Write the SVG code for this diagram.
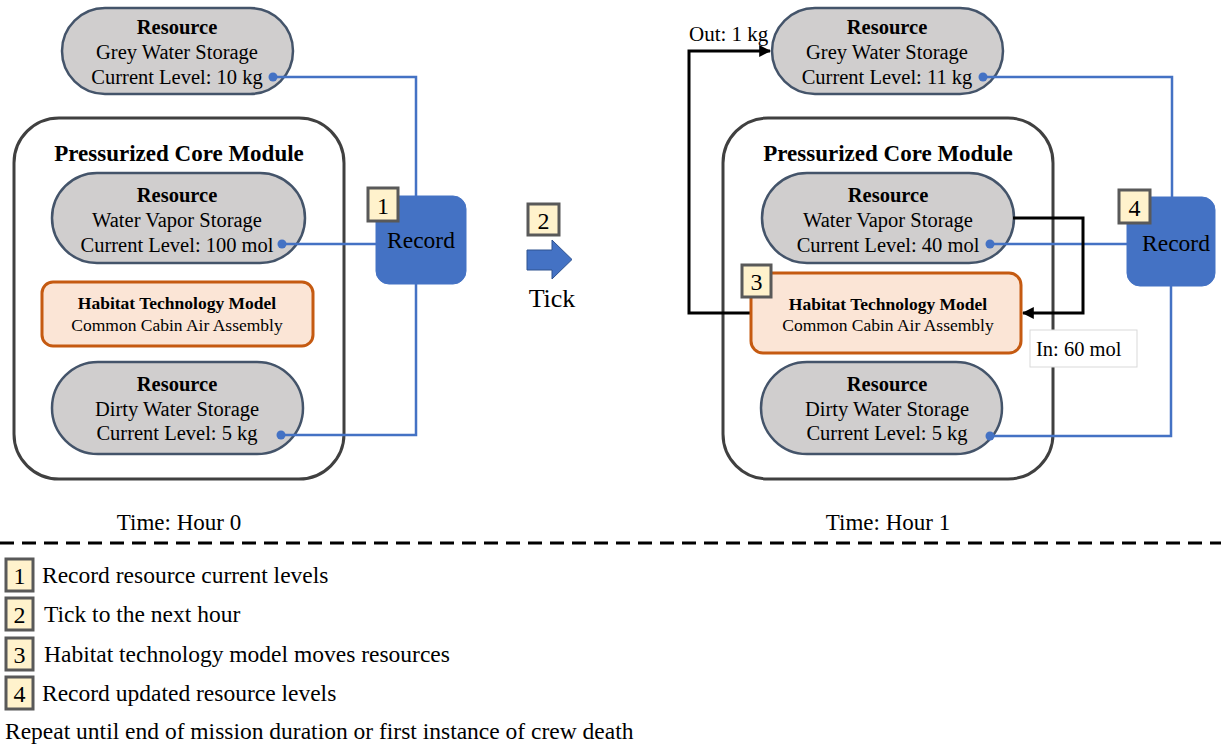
<svg xmlns="http://www.w3.org/2000/svg" width="1221" height="745" viewBox="0 0 1221 745" font-family="Liberation Serif, Tinos, Times New Roman, DejaVu Serif, serif">
  <defs>
    <style>
      .pill { fill: #d0cece; stroke: #44546a; stroke-width: 2.5; }
      .module { fill: #fff; stroke: #404040; stroke-width: 3; }
      .htm { fill: #fbe5d6; stroke: #c55a11; stroke-width: 3; }
      .rec { fill: #4472c4; stroke: #4472c4; stroke-width: 1; }
      .badge { fill: #fff2cc; stroke: #595959; stroke-width: 3; }
      .wire { fill: none; stroke: #4472c4; stroke-width: 2.5; }
      .flow { fill: none; stroke: #000; stroke-width: 3; }
      .dot { fill: #4472c4; }
      .b { font-weight: bold; }
      .t19 { font-size: 20.5px; }
      .t15 { font-size: 17.5px; }
      .title { font-size: 23px; font-weight: bold; }
      .recl { font-size: 23.5px; }
      .num { font-size: 24px; }
      .leg { font-size: 23.5px; }
      .time { font-size: 23px; }
    </style>
    <marker id="arrow" viewBox="0 0 10 10" refX="9" refY="5" markerWidth="4" markerHeight="4" orient="auto" markerUnits="strokeWidth">
      <path d="M0,0 L10,5 L0,10 z" fill="#000"/>
    </marker>
  </defs>

  <!-- ===== Hour 0 ===== -->
  <g id="h0-module">
    <rect class="module" x="14" y="118" width="330" height="361" rx="45"/>
    <text x="179" y="161" class="title" text-anchor="middle">Pressurized Core Module</text>
  </g>
  <g id="h0-grey">
    <rect class="pill" x="62" y="8" width="231" height="86" rx="43"/>
    <text class="t19" text-anchor="middle"><tspan x="177" y="34" class="b">Resource</tspan><tspan x="177" y="59">Grey Water Storage</tspan><tspan x="177" y="84">Current Level: 10 kg</tspan></text>
  </g>
  <g id="h0-vapor">
    <rect class="pill" x="52" y="173" width="253" height="90" rx="45"/>
    <text class="t19" text-anchor="middle"><tspan x="177" y="202" class="b">Resource</tspan><tspan x="177" y="227">Water Vapor Storage</tspan><tspan x="177" y="252">Current Level: 100 mol</tspan></text>
  </g>
  <g id="h0-htm">
    <rect class="htm" x="42" y="282" width="271" height="64" rx="11"/>
    <text class="t15" text-anchor="middle"><tspan x="177" y="309" class="b">Habitat Technology Model</tspan><tspan x="177" y="331">Common Cabin Air Assembly</tspan></text>
  </g>
  <g id="h0-dirty">
    <rect class="pill" x="52" y="362" width="251" height="92" rx="46"/>
    <text class="t19" text-anchor="middle"><tspan x="177" y="391" class="b">Resource</tspan><tspan x="177" y="416">Dirty Water Storage</tspan><tspan x="177" y="440">Current Level: 5 kg</tspan></text>
  </g>
  <g id="h0-record">
    <rect class="rec" x="376" y="196" width="90" height="88" rx="13"/>
    <text x="421" y="248" class="recl" text-anchor="middle">Record</text>
    <rect class="badge" x="368" y="188" width="30" height="33"/>
    <text x="383" y="214" class="num" text-anchor="middle">1</text>
  </g>

  <!-- ===== Tick step ===== -->
  <g id="tick">
    <rect class="badge" x="528" y="204" width="31" height="31"/>
    <text x="543.5" y="229" class="num" text-anchor="middle">2</text>
    <path d="M527,250 H552 V240 L572,259.5 L552,279 V270 H527 Z" fill="#4472c4" stroke="#2f528f" stroke-width="1"/>
    <text x="552" y="307" font-size="26" text-anchor="middle">Tick</text>
  </g>

  <!-- ===== Hour 1 ===== -->
  <g id="h1-module">
    <rect class="module" x="723" y="118" width="330" height="361" rx="45"/>
    <text x="888" y="161" class="title" text-anchor="middle">Pressurized Core Module</text>
  </g>
  <g id="h1-grey">
    <rect class="pill" x="772" y="8" width="231" height="86" rx="43"/>
    <text class="t19" text-anchor="middle"><tspan x="887" y="34" class="b">Resource</tspan><tspan x="887" y="59">Grey Water Storage</tspan><tspan x="887" y="84">Current Level: 11 kg</tspan></text>
  </g>
  <g id="h1-vapor">
    <rect class="pill" x="762" y="173" width="252" height="90" rx="45"/>
    <text class="t19" text-anchor="middle"><tspan x="888" y="202" class="b">Resource</tspan><tspan x="888" y="227">Water Vapor Storage</tspan><tspan x="888" y="252">Current Level: 40 mol</tspan></text>
  </g>
  <g id="h1-dirty">
    <rect class="pill" x="761" y="362" width="241" height="92" rx="46"/>
    <text class="t19" text-anchor="middle"><tspan x="887" y="391" class="b">Resource</tspan><tspan x="887" y="416">Dirty Water Storage</tspan><tspan x="887" y="440">Current Level: 5 kg</tspan></text>
  </g>

  <!-- connectors: record wires and resource flows -->
  <g id="connectors">
    <path class="wire" d="M273,77 H416 V196"/>
    <path class="wire" d="M282,244 H376"/>
    <path class="wire" d="M281,435 H416 V284"/>
    <circle class="dot" cx="273" cy="77" r="4.5"/>
    <circle class="dot" cx="282" cy="244" r="4.5"/>
    <circle class="dot" cx="281" cy="435" r="4.5"/>

    <path class="wire" d="M983,77 H1172 V197"/>
    <path class="wire" d="M990,244 H1127"/>
    <path class="wire" d="M990,436 H1171 V286"/>
    <circle class="dot" cx="983" cy="77" r="4.5"/>
    <circle class="dot" cx="990" cy="244" r="4.5"/>
    <circle class="dot" cx="990" cy="436" r="4.5"/>

    <path class="flow" d="M751,313 H689 V51 H770" marker-end="url(#arrow)"/>
    <path class="flow" d="M1013,218 H1083 V313 H1023" marker-end="url(#arrow)"/>
  </g>

  <g id="h1-htm">
    <rect class="htm" x="751" y="273" width="270" height="80" rx="12"/>
    <text class="t15" text-anchor="middle"><tspan x="888" y="310" class="b">Habitat Technology Model</tspan><tspan x="888" y="331">Common Cabin Air Assembly</tspan></text>
    <rect class="badge" x="742" y="265" width="29" height="32"/>
    <text x="756.5" y="290" class="num" text-anchor="middle">3</text>
  </g>
  <g id="h1-record">
    <rect class="rec" x="1127" y="197" width="88" height="89" rx="13"/>
    <text x="1176" y="251" class="recl" text-anchor="middle">Record</text>
    <rect class="badge" x="1119" y="190" width="31" height="33"/>
    <text x="1134.5" y="216" class="num" text-anchor="middle">4</text>
  </g>

  <g id="flow-labels">
    <text x="689" y="41" font-size="21">Out: 1 kg</text>
    <rect x="1030" y="330" width="107" height="37" fill="#fff" stroke="#d9d9d9" stroke-width="1"/>
    <text x="1036" y="356" class="t19">In: 60 mol</text>
  </g>

  <g id="time-labels">
    <text x="179" y="530" class="time" text-anchor="middle">Time: Hour 0</text>
    <text x="888" y="530" class="time" text-anchor="middle">Time: Hour 1</text>
  </g>

  <line x1="0" y1="543" x2="1221" y2="543" stroke="#000" stroke-width="3" stroke-dasharray="14 8"/>

  <!-- step legend -->
  <g id="legend">
    <rect class="badge" x="6" y="559" width="27" height="32"/>
    <text x="19.5" y="584" class="num" text-anchor="middle">1</text>
    <text x="42" y="583" class="leg">Record resource current levels</text>
    <rect class="badge" x="6" y="598" width="27" height="32"/>
    <text x="19.5" y="623" class="num" text-anchor="middle">2</text>
    <text x="44" y="622" class="leg">Tick to the next hour</text>
    <rect class="badge" x="6" y="638" width="27" height="32"/>
    <text x="19.5" y="663" class="num" text-anchor="middle">3</text>
    <text x="44" y="662" class="leg">Habitat technology model moves resources</text>
    <rect class="badge" x="6" y="677" width="27" height="32"/>
    <text x="19.5" y="702" class="num" text-anchor="middle">4</text>
    <text x="42" y="701" class="leg">Record updated resource levels</text>
    <text x="5" y="739" class="leg">Repeat until end of mission duration or first instance of crew death</text>
  </g>
</svg>
